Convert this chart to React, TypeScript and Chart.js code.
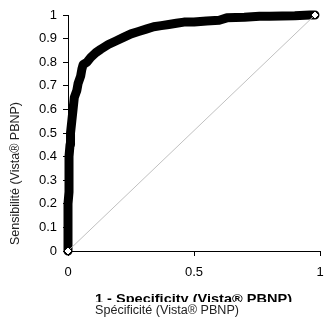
import React, { useEffect, useRef } from "react";
import { Chart, registerables } from "chart.js";

Chart.register(...registerables);

// ROC curve: 1 - specificity (x) and sensitivity (y)
const rocFpr = [
  0, 0, 0, 0, 0, 0.004, 0.004, 0.004, 0.004, 0.008, 0.01, 0.015, 0.02, 0.025,
  0.035, 0.04, 0.05, 0.055, 0.06, 0.075, 0.09, 0.11, 0.13, 0.16, 0.19, 0.22,
  0.25, 0.28, 0.31, 0.34, 0.37, 0.4, 0.43, 0.46, 0.5, 0.55, 0.6, 0.63, 0.7,
  0.76, 0.8, 0.9, 0.96, 0.98,
];
const rocTpr = [
  0, 0.05, 0.1, 0.15, 0.2, 0.25, 0.3, 0.35, 0.4, 0.45, 0.5, 0.55, 0.6, 0.65,
  0.68, 0.71, 0.74, 0.77, 0.79, 0.8, 0.82, 0.84, 0.855, 0.875, 0.89, 0.905,
  0.92, 0.93, 0.94, 0.95, 0.955, 0.96, 0.965, 0.97, 0.97, 0.975, 0.978, 0.988,
  0.99, 0.995, 0.995, 0.997, 1, 1,
];
// Reference (chance) line end points
const diagX = [0, 0.98];
const diagY = [0, 1];

const xTitleBold = "1 - Specificity (Vista® PBNP)";
const xTitle = "Spécificité (Vista® PBNP)";
const yTitle = "Sensibilité (Vista® PBNP)";

function drawFitted(
  ctx: CanvasRenderingContext2D,
  text: string,
  font: string,
  x: number,
  y: number,
  width: number,
  color: string
) {
  ctx.save();
  ctx.font = font;
  ctx.fillStyle = color;
  ctx.textAlign = "left";
  ctx.textBaseline = "alphabetic";
  const w = ctx.measureText(text).width;
  ctx.translate(x, y);
  ctx.scale(width / w, 1);
  ctx.fillText(text, 0, 0);
  ctx.restore();
}

const titlesPlugin = {
  id: "titles",
  afterDraw(chart: any) {
    const ctx: CanvasRenderingContext2D = chart.ctx;
    drawFitted(ctx, xTitleBold, "bold 13px 'Liberation Sans', Arial, sans-serif", 95, 303, 197, "#000");
    ctx.save();
    ctx.fillStyle = "#fff";
    ctx.fillRect(85, 302, 230, 18);
    ctx.restore();
    drawFitted(ctx, xTitle, "12.5px 'Liberation Sans', Arial, sans-serif", 95, 314, 144, "#222");
    ctx.save();
    ctx.translate(19, 245);
    ctx.rotate(-Math.PI / 2);
    drawFitted(ctx, yTitle, "12.5px 'Liberation Sans', Arial, sans-serif", 0, 0, 143, "#222");
    ctx.restore();
  },
};

const fmt = (v: any) => String(Math.round(Number(v) * 10) / 10);

export default function App() {
  const ref = useRef<HTMLCanvasElement>(null);
  useEffect(() => {
    if (!ref.current) return;
    const tickFont = { family: "'Liberation Sans', Arial, sans-serif", size: 13 };
    const chart = new Chart(ref.current, {
      type: "line",
      data: {
        datasets: [
          {
            data: diagX.map((x, i) => ({ x, y: diagY[i] })),
            order: 0,
            clip: false,
            borderColor: "#c0c0c0",
            borderWidth: 1,
            pointStyle: "rectRot",
            pointRadius: 4,
            pointBackgroundColor: "#fff",
            pointBorderColor: "#000",
            pointBorderWidth: 1,
          },
          {
            data: rocFpr.map((x, i) => ({ x, y: rocTpr[i] })),
            order: 1,
            clip: false,
            borderColor: "#000",
            borderWidth: 9,
            borderJoinStyle: "round",
            borderCapStyle: "round",
            pointRadius: 0,
            tension: 0,
          },
        ],
      },
      options: {
        responsive: false,
        animation: false,
        layout: { autoPadding: false, padding: { top: 15, right: 4, left: 0, bottom: 0 } },
        plugins: { legend: { display: false }, tooltip: { enabled: false } },
        scales: {
          x: {
            type: "linear",
            min: 0,
            max: 1,
            ticks: { stepSize: 0.5, color: "#000", font: tickFont, padding: 9, maxRotation: 0, callback: fmt },
            grid: { drawOnChartArea: false, drawTicks: true, tickLength: 5, color: "#000" },
            border: { display: true, color: "#000", width: 1 },
            afterFit(scale: any) {
              scale.height = 69;
              scale.paddingLeft = 0;
              scale.paddingRight = 0;
            },
          },
          y: {
            type: "linear",
            min: 0,
            max: 1,
            ticks: { stepSize: 0.1, color: "#000", font: tickFont, padding: 6, callback: fmt },
            grid: { drawOnChartArea: false, drawTicks: true, tickLength: 5, color: "#000" },
            border: { display: true, color: "#000", width: 1 },
            afterFit(scale: any) {
              scale.width = 68;
              scale.paddingTop = 0;
              scale.paddingBottom = 0;
            },
          },
        },
      },
      plugins: [titlesPlugin],
    } as any);
    return () => chart.destroy();
  }, []);
  return (
    <canvas
      ref={ref}
      width={324}
      height={320}
      style={{ position: "absolute", left: 0, top: 0, width: 324, height: 320 }}
    />
  );
}
